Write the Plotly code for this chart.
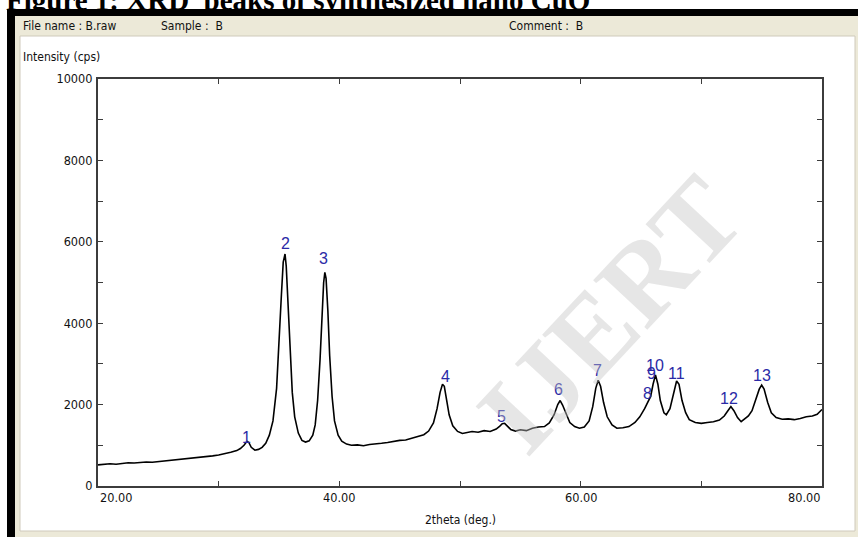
import plotly.graph_objects as go

# ---------------- data ----------------
two_theta = [20.0, 20.5, 21.0, 21.5, 22.0, 22.5, 23.0, 23.5, 24.0, 24.5, 25.0, 25.5, 26.0, 26.5,
             27.0, 27.5, 28.0, 28.5, 29.0, 29.5, 30.0, 30.5, 31.0, 31.5, 31.8, 32.1, 32.35, 32.5,
             32.7, 33.0, 33.3, 33.6, 33.9, 34.2, 34.5, 34.8, 35.0, 35.2, 35.35, 35.5, 35.6, 35.75,
             35.9, 36.1, 36.3, 36.6, 36.9, 37.2, 37.5, 37.8, 38.0, 38.2, 38.4, 38.55, 38.7, 38.8,
             38.9, 39.05, 39.2, 39.4, 39.6, 39.9, 40.2, 40.6, 41.0, 41.5, 42.0, 42.5, 43.0, 43.5,
             44.0, 44.5, 45.0, 45.5, 46.0, 46.5, 47.0, 47.4, 47.8, 48.1, 48.35, 48.55, 48.7, 48.9,
             49.1, 49.4, 49.8, 50.2, 50.6, 51.0, 51.5, 52.0, 52.5, 53.0, 53.3, 53.5, 53.7, 53.9,
             54.2, 54.6, 55.0, 55.5, 56.0, 56.5, 57.0, 57.4, 57.8, 58.1, 58.3, 58.5, 58.8, 59.1,
             59.5, 59.9, 60.3, 60.7, 61.0, 61.25, 61.45, 61.65, 61.9, 62.2, 62.6, 63.0, 63.5, 64.0,
             64.5, 64.9, 65.3, 65.6, 65.8, 66.0, 66.2, 66.4, 66.6, 66.9, 67.1, 67.4, 67.7, 67.95,
             68.15, 68.4, 68.7, 69.0, 69.5, 70.0, 70.5, 71.0, 71.5, 71.9, 72.2, 72.45, 72.7, 73.0,
             73.3, 73.6, 73.9, 74.2, 74.5, 74.8, 75.0, 75.2, 75.5, 75.8, 76.2, 76.7, 77.2, 77.7,
             78.2, 78.7, 79.2, 79.6, 80.0]
intensity = [520, 530, 545, 535, 560, 570, 565, 585, 590, 585, 600, 620, 630, 640,
             655, 665, 680, 700, 720, 740, 760, 790, 830, 870, 920, 1000, 1100, 1070,
             950, 880, 900, 950, 1050, 1250, 1600, 2400, 3400, 4700, 5500, 5700, 5400, 4500,
             3300, 2300, 1700, 1300, 1120, 1080, 1110, 1250, 1500, 2100, 3100, 4200, 5000, 5250,
             5100, 4300, 3200, 2200, 1600, 1250, 1100, 1030, 1000, 1010, 990, 1020, 1030, 1050,
             1070, 1100, 1120, 1130, 1170, 1210, 1260, 1350, 1550, 1900, 2300, 2500, 2450, 2100,
             1750, 1480, 1340, 1290, 1310, 1340, 1320, 1360, 1340, 1400, 1470, 1530, 1540, 1470,
             1390, 1350, 1380, 1360, 1420, 1450, 1460, 1550, 1750, 2000, 2100, 1990, 1750, 1560,
             1460, 1420, 1450, 1600, 1950, 2400, 2600, 2450, 2050, 1700, 1500, 1420, 1430, 1460,
             1560, 1700, 1900, 2080, 2200, 2500, 2730, 2500, 2100, 1800, 1750, 1900, 2300, 2580,
             2500, 2100, 1800, 1630, 1560, 1540, 1560, 1580, 1620, 1720, 1850, 1950, 1850, 1680,
             1580, 1640, 1720, 1850, 2100, 2380, 2480, 2380, 2050, 1800, 1680, 1640, 1650, 1630,
             1660, 1700, 1720, 1760, 1880]

peak_labels = ["1", "2", "3", "4", "5", "6", "7", "8", "9", "10", "11", "12", "13"]
peak_label_x = [32.3, 35.5, 38.65, 48.76, 53.48, 58.2, 61.43, 65.5, 65.83, 66.16, 67.98, 72.29, 75.03]
peak_label_y = [1180, 5950, 5580, 2700, 1720, 2360, 2830, 2285, 2776, 2973, 2776, 2162, 2727]

x_tick_vals = [20, 40, 60, 80]
x_tick_text = ["20.00", "40.00", "60.00", "80.00"]
y_tick_vals = [0, 1000, 2000, 3000, 4000, 5000, 6000, 7000, 8000, 9000, 10000]
y_tick_text = ["0", "", "2000", "", "4000", "", "6000", "", "8000", "", "10000"]

# ---------------- geometry helpers (pixel -> paper) ----------------
W, H = 858, 537
L, R, T, B = 98, 822, 79, 486
def px(x):
    return (x - L) / (R - L)
def py(y):
    return (B - y) / (B - T)

UI_FONT = "DejaVu Sans Condensed, Liberation Sans, sans-serif"
UI_SIZE = 12
BEIGE = "#ECE9D8"

fig = go.Figure()
fig.add_trace(go.Scatter(x=two_theta, y=intensity, mode="lines",
                         line=dict(color="black", width=1.6), hoverinfo="skip",
                         showlegend=False))

shapes = [
    dict(type="rect", xref="paper", yref="paper", x0=px(15), x1=px(858), y0=py(16), y1=py(537),
         fillcolor=BEIGE, line=dict(width=0), layer="below"),
    dict(type="rect", xref="paper", yref="paper", x0=px(7), x1=px(15), y0=py(9), y1=py(537),
         fillcolor="black", line=dict(width=0), layer="below"),
    dict(type="rect", xref="paper", yref="paper", x0=px(7), x1=px(858), y0=py(9), y1=py(16),
         fillcolor="black", line=dict(width=0), layer="below"),
    dict(type="rect", xref="paper", yref="paper", x0=px(20), x1=px(855), y0=py(36), y1=py(531),
         fillcolor="white", line=dict(color="#cfcabb", width=1), layer="below"),
]

annotations = []
# figure caption (cropped at the top of the page)
annotations.append(dict(xref="paper", yref="paper", x=px(4), y=py(9), xanchor="left", yanchor="bottom",
                        text="Figure 1: XRD  peaks of synthesized nano CuO", showarrow=False,
                        yshift=-9,
                        font=dict(family="Liberation Serif, Times New Roman, serif", size=29,
                                  color="black", weight="bold")))
# header strip
for txt, xpix in [("File name : B.raw", 21), ("Sample :  B", 159), ("Comment :  B", 507)]:
    annotations.append(dict(xref="paper", yref="paper", x=px(xpix), y=py(25.5), xanchor="left",
                            yanchor="middle", text=txt, showarrow=False,
                            font=dict(family=UI_FONT, size=UI_SIZE, color="#111111")))
# y axis title
annotations.append(dict(xref="paper", yref="paper", x=px(21), y=py(57), xanchor="left",
                        yanchor="middle", text="Intensity (cps)", showarrow=False,
                        font=dict(family=UI_FONT, size=UI_SIZE, color="#111111")))
# x axis title
annotations.append(dict(xref="paper", yref="paper", x=0.5, y=py(520), xanchor="center",
                        yanchor="middle", text="2theta (deg.)", showarrow=False,
                        font=dict(family=UI_FONT, size=UI_SIZE, color="#111111")))
# x tick labels
anchors = ["left", "center", "center", "right"]
for v, t, a in zip(x_tick_vals, x_tick_text, anchors):
    annotations.append(dict(xref="x", yref="paper", x=v, y=py(497), xanchor=a, yanchor="middle",
                            text=t, showarrow=False,
                            font=dict(family=UI_FONT, size=UI_SIZE + 0.6, color="#111111")))
# peak labels
for t, xv, yv in zip(peak_labels, peak_label_x, peak_label_y):
    annotations.append(dict(xref="x", yref="y", x=xv, y=yv, xanchor="center", yanchor="middle",
                            text=t, showarrow=False,
                            font=dict(family="Liberation Sans, Arial, sans-serif", size=16,
                                      color="#2a2aa6")))
# watermark
annotations.append(dict(xref="paper", yref="paper", x=px(610), y=py(314), xanchor="center",
                        yanchor="middle", text="IJERT", showarrow=False, textangle=-47,
                        font=dict(family="Liberation Serif, Times New Roman, serif", size=112,
                                  color="rgba(195,195,195,0.42)", weight="bold")))

fig.update_layout(
    width=W, height=H,
    margin=dict(l=L, r=W - R, t=T, b=H - B, pad=0),
    paper_bgcolor="white",
    plot_bgcolor="rgba(0,0,0,0)",
    shapes=shapes,
    annotations=annotations,
    showlegend=False,
    xaxis=dict(range=[20, 80], dtick=10, tick0=20, showgrid=False, zeroline=False,
               showline=True, linecolor="#3c3c3c", linewidth=2, mirror="allticks",
               ticks="inside", ticklen=5, tickcolor="#3c3c3c", tickwidth=1,
               showticklabels=False),
    yaxis=dict(range=[0, 10000], tickvals=y_tick_vals, ticktext=y_tick_text,
               showgrid=False, zeroline=False,
               showline=True, linecolor="#3c3c3c", linewidth=2, mirror="allticks",
               ticks="inside", ticklen=5, tickcolor="#3c3c3c", tickwidth=1,
               tickfont=dict(family=UI_FONT, size=UI_SIZE + 0.6, color="#111111"),
               ticklabelstandoff=1),
)

fig.write_html("out.html", config={"displayModeBar": False},
               post_script="document.body.style.margin='0';")
